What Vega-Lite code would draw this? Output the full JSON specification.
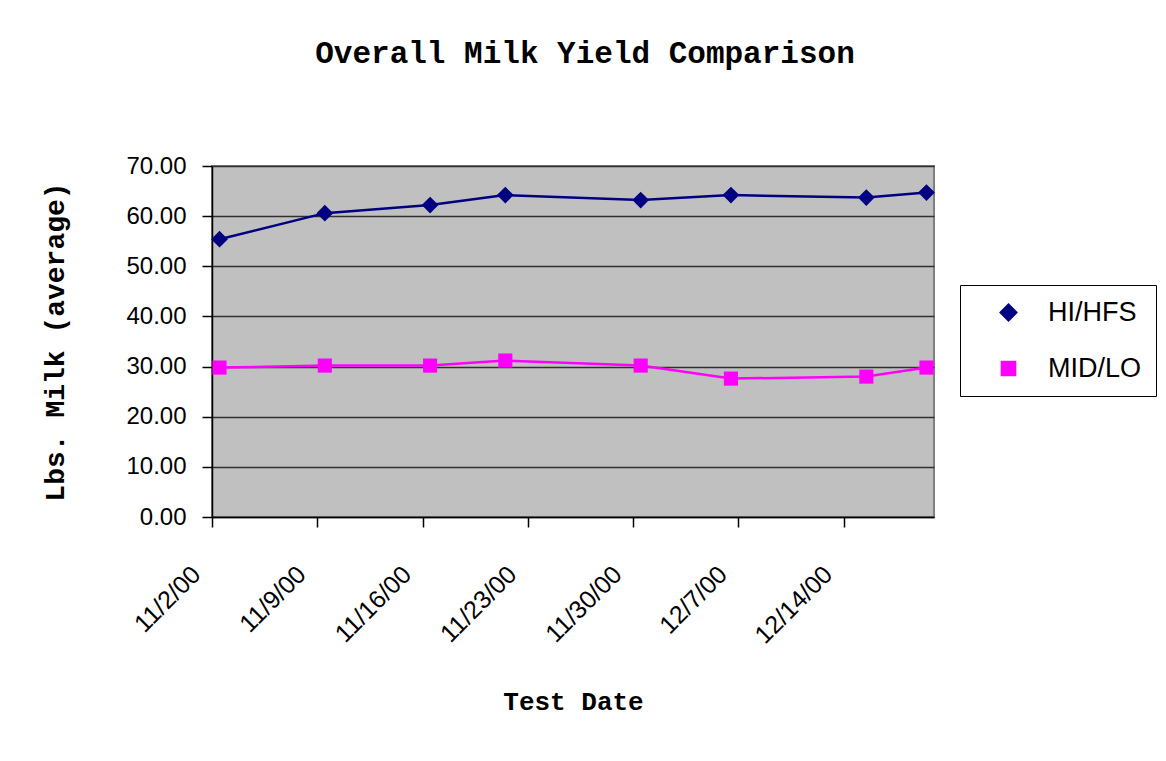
{
  "$schema": "https://vega.github.io/schema/vega-lite/v6.json",
  "autosize": "none",
  "width": 722,
  "height": 351,
  "padding": {"left": 212, "top": 166, "right": 232, "bottom": 244},
  "background": "white",
  "title": {
    "text": "Overall Milk Yield Comparison",
    "font": "Liberation Mono",
    "fontSize": 31,
    "fontWeight": "bold",
    "color": "black",
    "anchor": "middle",
    "offset": 84,
    "dx": 12
  },
  "data": {
    "values": [
      {"date": "2000-11-02T12:00:00Z", "group": "HI/HFS", "milk": 55.4},
      {"date": "2000-11-09T12:00:00Z", "group": "HI/HFS", "milk": 60.6},
      {"date": "2000-11-16T12:00:00Z", "group": "HI/HFS", "milk": 62.2},
      {"date": "2000-11-21T12:00:00Z", "group": "HI/HFS", "milk": 64.2},
      {"date": "2000-11-30T12:00:00Z", "group": "HI/HFS", "milk": 63.2},
      {"date": "2000-12-06T12:00:00Z", "group": "HI/HFS", "milk": 64.2},
      {"date": "2000-12-15T12:00:00Z", "group": "HI/HFS", "milk": 63.7},
      {"date": "2000-12-19T12:00:00Z", "group": "HI/HFS", "milk": 64.7},
      {"date": "2000-11-02T12:00:00Z", "group": "MID/LO", "milk": 29.8},
      {"date": "2000-11-09T12:00:00Z", "group": "MID/LO", "milk": 30.2},
      {"date": "2000-11-16T12:00:00Z", "group": "MID/LO", "milk": 30.2},
      {"date": "2000-11-21T12:00:00Z", "group": "MID/LO", "milk": 31.2},
      {"date": "2000-11-30T12:00:00Z", "group": "MID/LO", "milk": 30.2},
      {"date": "2000-12-06T12:00:00Z", "group": "MID/LO", "milk": 27.6},
      {"date": "2000-12-15T12:00:00Z", "group": "MID/LO", "milk": 28.0},
      {"date": "2000-12-19T12:00:00Z", "group": "MID/LO", "milk": 29.8}
    ]
  },
  "encoding": {
    "x": {
      "field": "date",
      "type": "temporal",
      "scale": {
        "type": "utc",
        "domain": [
          {"year": 2000, "month": 11, "date": 2, "utc": true},
          {"year": 2000, "month": 12, "date": 20, "utc": true}
        ]
      },
      "axis": {
        "title": "Test Date",
        "values": [
          {"year": 2000, "month": 11, "date": 2, "utc": true},
          {"year": 2000, "month": 11, "date": 9, "utc": true},
          {"year": 2000, "month": 11, "date": 16, "utc": true},
          {"year": 2000, "month": 11, "date": 23, "utc": true},
          {"year": 2000, "month": 11, "date": 30, "utc": true},
          {"year": 2000, "month": 12, "date": 7, "utc": true},
          {"year": 2000, "month": 12, "date": 14, "utc": true}
        ],
        "format": "%-m/%-d/%y",
        "labelAngle": -45,
        "labelAlign": "right",
        "labelBaseline": "middle",
        "labelPadding": 43,
        "labelOffset": -16,
        "labelFontSize": 25,
        "grid": false,
        "titleFontSize": 26,
        "titlePadding": 40
      }
    },
    "y": {
      "field": "milk",
      "type": "quantitative",
      "scale": {"domain": [0, 70], "nice": false, "zero": true},
      "axis": {
        "title": "Lbs. Milk (average)",
        "values": [0, 10, 20, 30, 40, 50, 60, 70],
        "format": ".2f",
        "grid": true,
        "gridColor": "#303030",
        "gridWidth": 1.5,
        "labelPadding": 16,
        "titleFontSize": 28,
        "titlePadding": 56
      }
    },
    "color": {
      "field": "group",
      "type": "nominal",
      "scale": {"domain": ["HI/HFS", "MID/LO"], "range": ["#000080", "#FF00FF"]},
      "legend": {
        "title": null,
        "orient": "none",
        "legendX": 748,
        "legendY": 119,
        "strokeColor": "black",
        "fillColor": "white",
        "padding": 14,
        "rowPadding": 28,
        "symbolSize": 400,
        "symbolOffset": 21,
        "labelOffset": 26,
        "labelFont": "Liberation Sans",
        "labelFontSize": 27,
        "labelColor": "black",
        "labelLimit": 300
      }
    }
  },
  "layer": [
    {
      "mark": {"type": "line", "strokeWidth": 2.5}
    },
    {
      "mark": {"type": "point", "filled": true, "opacity": 1},
      "encoding": {
        "shape": {
          "field": "group",
          "type": "nominal",
          "scale": {"domain": ["HI/HFS", "MID/LO"], "range": ["diamond", "square"]},
          "legend": null
        },
        "size": {
          "field": "group",
          "type": "nominal",
          "scale": {"domain": ["HI/HFS", "MID/LO"], "range": [280, 200]},
          "legend": null
        }
      }
    }
  ],
  "config": {
    "view": {"fill": "#C0C0C0", "stroke": "#808080", "strokeWidth": 2},
    "axis": {
      "domainColor": "black",
      "domainWidth": 1.5,
      "tickColor": "black",
      "tickWidth": 1.5,
      "tickSize": 10,
      "labelFont": "Liberation Sans",
      "labelFontSize": 24,
      "labelColor": "black",
      "titleFont": "Liberation Mono",
      "titleFontSize": 24,
      "titleFontWeight": "bold",
      "titleColor": "black"
    }
  }
}
